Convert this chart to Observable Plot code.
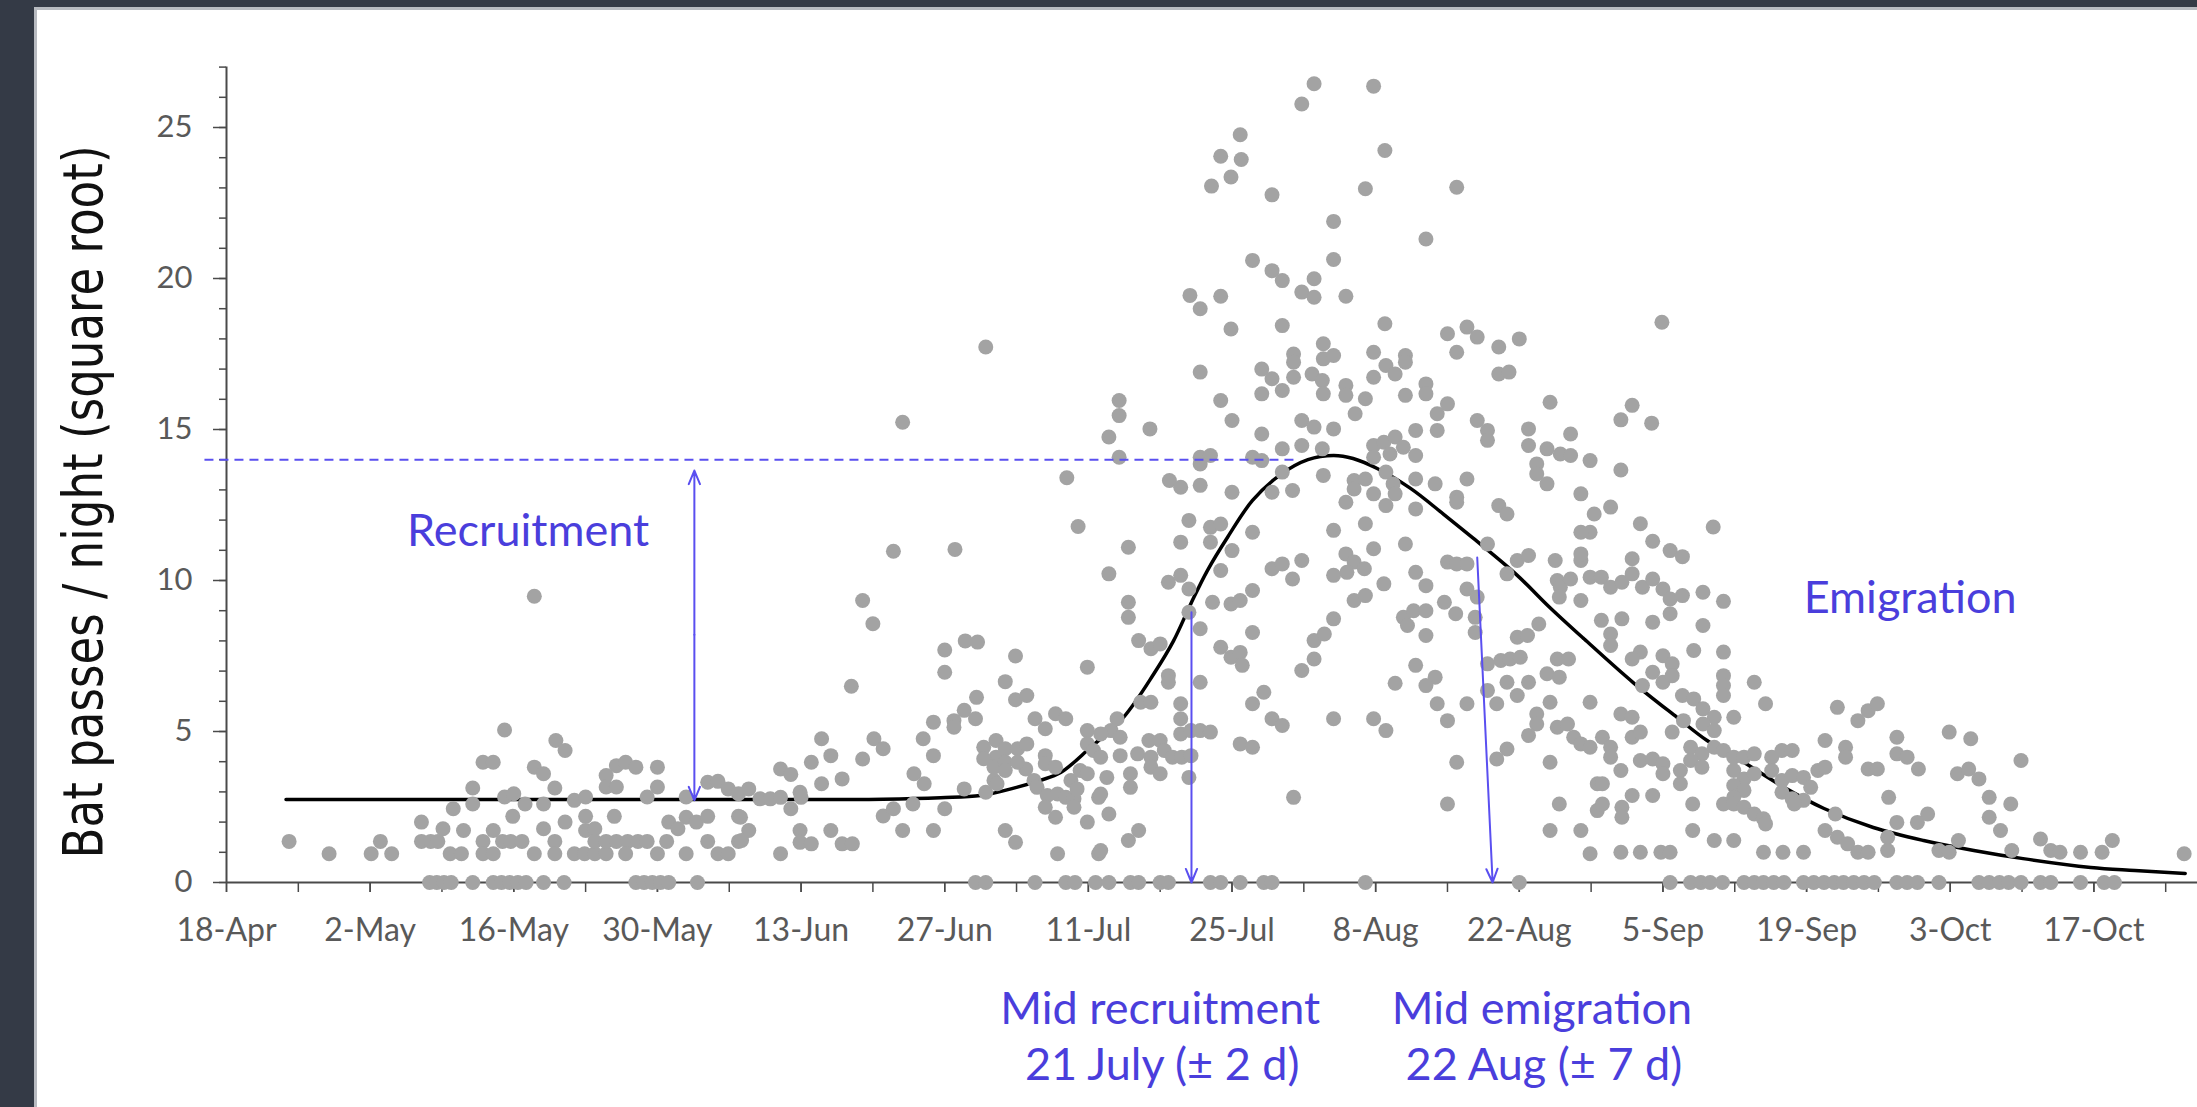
<!DOCTYPE html>
<html><head><meta charset="utf-8">
<script src="https://cdn.jsdelivr.net/npm/d3@7"></script>
<script src="https://cdn.jsdelivr.net/npm/@observablehq/plot@0.6"></script>
<style>
html,body{margin:0;padding:0;width:2197px;height:1107px;overflow:hidden;background:#343a46;}
#panel{position:absolute;left:34px;top:7px;width:2163px;height:1100px;background:#fff;border-left:3px solid #b8bbc1;border-top:3px solid #b8bbc1;overflow:hidden;}
#panel svg{position:absolute;left:0;top:0;}
</style></head><body><div id="panel"></div>
<script>
// x = nights since 18-Apr, y = sqrt(bat passes per night)
const xTickLabels = ["18-Apr","2-May","16-May","30-May","13-Jun","27-Jun","11-Jul","25-Jul","8-Aug","22-Aug","5-Sep","19-Sep","3-Oct","17-Oct"];
const yTickValues = [0,5,10,15,20,25];
const yTitle = "Bat passes / night (square root)";

const zeroNights = [19.8,20.5,21.2,21.9,24,26,26.8,27.6,28.4,29.2,30.9,32.9,39.9,40.7,41.5,42.3,43.1,45.9,
  73,74,78.8,81.8,82.7,84.7,86,88.1,88.9,91,91.8,95.9,96.9,98.8,101.1,101.9,111,126,
  140.7,142.7,143.7,144.6,145.8,147.9,148.9,149.8,150.8,151.8,153.7,154.7,155.7,156.7,157.6,158.6,159.6,160.6,
  162.8,163.8,164.8,166.9,170.8,171.8,172.8,173.7,174.9,176.8,177.8,180.7,183,184];

const earlyNights = [[6.1,1.36],[10.0,0.95],[14.1,0.95],[15.0,1.36],[16.1,0.95],
[19.0,2.0],[19.0,1.36],[19.9,1.36],[20.6,1.36],[21.1,1.78],
[21.8,0.95],[22.9,0.95],[22.1,2.44],[23.1,1.72],[24.0,3.13],[24.0,2.6],
[25.0,3.98],[26.0,3.98],[25.0,1.36],[25.0,0.95],[26.0,0.95],[26.0,1.72],
[27.1,5.05],[27.1,2.83],[28.0,2.94],[26.9,1.36],[27.7,1.36],[28.8,1.36],[27.9,2.19],[29.1,2.6],
[30.0,9.48],[30.0,3.82],[30.9,3.6],[30.0,0.95],[30.9,2.6],[30.9,1.78],
[32.1,4.7],[33.0,4.37],[32.0,3.13],[32.0,1.36],[32.0,0.95],[33.0,2.0],
[33.9,2.72],[35.0,2.83],[33.9,0.95],[34.9,0.95],[35.9,0.95],[37.0,0.95],[35.0,2.19],[35.0,1.72],[35.9,1.78],[35.9,1.36],[37.0,1.36],
[37.0,3.54],[38.0,3.87],[37.0,3.16],[38.0,3.16],[37.8,2.19],[38.9,3.98],[39.9,3.82],
[38.0,1.36],[39.1,1.36],[40.1,1.36],[41.0,1.36],[38.9,0.95],
[41.0,2.83],[42.0,3.82],[42.0,3.16],[42.0,0.95],[43.1,2.0],[42.9,1.36],
[44.0,1.78],[44.8,2.16],[44.8,2.83],[44.8,0.95],[45.8,2.0],
[46.9,3.32],[47.9,3.35],[48.9,3.1],[46.9,2.19],[46.9,1.36],[47.9,0.95],[48.9,0.95],
[49.9,2.94],[49.9,2.19],[49.9,1.36],
[65.9,15.24],[81.9,13.4],[83.0,11.79],[65.0,10.97],[71.0,11.03],[62.0,9.34],[63.0,8.57],[60.9,6.5],[70.0,7.7],[70.0,6.96],[72.0,8.0],[73.2,7.96],[76.9,7.5],[75.9,6.65],[83.9,7.13],[73.1,6.13],[76.9,6.05],[78.0,6.19],[70.9,5.36],[71.9,5.7],[73.0,5.42],[70.9,5.14],[68.9,5.31],[67.9,4.76],[68.9,4.2],[63.1,4.76],[64.0,4.43],[58.0,4.76],[58.9,4.2],[57.0,3.98],[62.0,4.09],[58.0,3.27],[60.0,3.43],[54.0,3.76],[55.0,3.58],[55.9,2.99],
[50.9,3.1],[52.0,2.77],[53.0,2.77],[54.0,2.82],[55.0,2.44],[56.0,2.82],[50.1,2.16],[50.9,1.72],[50.2,1.39],
[55.9,1.72],[55.9,1.33],[57.0,1.28],[54.0,0.95],[58.9,1.72],[60.0,1.28],[61.0,1.28],[64.0,2.2],[65.0,2.44],[67.0,3.6],[68.0,3.27],[66.9,2.6],[65.9,1.72],[68.9,1.72],[70.0,2.44],[71.9,3.1],[74.0,2.99],
[73.8,4.48],[75.0,4.7],[75.9,4.43],[75.0,4.15],[73.8,4.1],[74.8,3.82],[75.9,3.98],[77.1,4.43],[78.0,4.59],[77.9,3.76],[74.8,3.38],[75.9,3.71],[77.1,3.98],[75.1,3.27],
[78.7,3.38],[79.0,3.15],[78.8,5.42],[79.8,5.09],[80.8,5.59],[81.8,5.42],[79.8,4.2],[79.8,3.93],[80.8,3.82],[80.0,2.88],[81.0,2.93],[81.8,2.82],[82.6,2.77],[79.8,2.49],[80.8,2.16],[75.9,1.72],[76.9,1.33],[81.0,0.95],[82.3,3.38],[82.9,3.1],[83.2,3.71],[83.9,5.03],[83.9,4.59],[84.5,4.37],[83.9,2.0],[85.0,2.82],[85.0,0.95],[83.9,3.6],[82.6,2.49],
[74.0,17.73]];

const peakNights = [[106.0,26.45],[104.8,25.78],[111.8,26.37],[98.8,24.76],[96.9,24.05],[98.9,23.94],[97.9,23.36],[96.0,23.06],[101.9,22.77],[112.9,24.24],[111.0,22.97],[119.9,23.02],[107.9,21.89],[116.9,21.31],[100.0,20.6],[107.9,20.63],[101.9,20.26],[102.9,19.93],[106.0,19.99],[104.8,19.55],[106.0,19.38],[109.1,19.41],[93.9,19.44],[96.9,19.41],[94.9,19.0],[97.9,18.33],[102.9,18.44],[112.9,18.5],[94.9,16.9],[100.9,17.0],[101.9,16.68],[102.9,16.29],[100.9,16.18],[104.0,17.5],[104.0,17.23],[104.0,16.73],[106.9,17.84],[106.9,17.34],[107.9,17.45],[105.8,16.84],[106.8,16.62],[106.9,16.18],[109.1,16.46],[109.1,16.13],[110.0,15.52],[111.0,16.02],[111.8,17.56],[113.0,17.12],[113.9,16.84],[114.9,17.45],[114.9,17.23],[111.8,16.73],[114.9,16.13],[116.9,16.51],[116.9,16.18],[119.0,18.17],[119.9,17.56],[120.9,18.39],[121.9,18.06],[124.0,17.73],[124.0,16.84],[125.0,16.9],[126.0,18.0],[118.0,15.52],[119.0,15.85],[118.0,14.97],[115.9,14.97],[121.9,15.3],[122.9,14.97],[122.9,14.64],[126.9,15.02],[126.9,14.47],[129.0,15.9],[131.0,14.85],[128.7,14.36],[130.0,14.19],[131.0,14.14],[127.7,13.86],[127.7,13.53],[128.7,13.2],[132.9,13.97],[132.0,12.87],[87.0,15.96],[87.0,15.46],[86.0,14.75],[90.0,15.02],[87.0,14.08],[96.9,15.96],[98.0,15.3],[100.9,14.85],[102.9,14.36],[100.9,13.97],[100.0,14.08],[104.8,15.3],[106.0,15.08],[104.8,14.47],[107.9,15.02],[106.8,14.36],[111.8,14.47],[112.8,14.58],[113.9,14.75],[114.7,14.41],[115.9,14.14],[113.4,14.19],[111.8,14.08],[94.9,14.08],[95.9,14.14],[94.9,13.86],[91.9,13.31],[93.0,13.09],[94.9,13.15],[98.0,12.92],[101.9,12.92],[103.9,12.98],[102.9,13.59],[106.9,13.48],[109.9,13.31],[111.0,13.36],[109.9,13.03],[113.0,13.59],[113.7,13.2],[113.9,12.87],[115.9,13.36],[117.8,13.2],[119.9,12.76],[120.9,13.36],[111.8,12.87],
[109.1,12.59],[113.0,12.48],[115.9,12.37],[119.9,12.59],[124.0,12.48],[124.8,12.2],[133.3,12.2],
[93.8,11.99],[95.9,11.76],[96.9,11.87],[95.9,11.27],[100.0,11.6],[93.0,11.27],[87.9,11.1],[86.0,10.22],[98.0,10.99],[96.9,10.33],[91.8,9.94],[93.0,10.17],[93.8,9.72],[87.9,9.28],[87.9,8.78],[93.8,8.95],[96.1,9.28],[97.9,9.22],[98.8,9.34],[100.0,9.67],[94.9,8.4],[88.9,8.01],[90.1,7.74],[91.0,7.9],[96.9,7.79],[97.9,7.46],[98.8,7.62],[99.0,7.19],[100.0,8.28],[91.8,6.85],[91.8,6.63],[94.9,6.63],[101.1,6.3],[100.0,5.92],[89.1,5.97],[90.1,5.97],[93.0,5.92],[93.0,5.42],[93.0,4.92],[94.0,5.03],[94.9,5.03],[95.9,4.98],[86.8,5.42],[86.2,5.03],[87.1,4.81],[85.2,4.92],[101.9,5.42],[102.9,5.2],[98.8,4.59],[100.0,4.48],
[89.9,4.7],[91.0,4.7],[88.8,4.26],[90.1,4.15],[91.4,4.37],[92.2,4.15],[93.1,4.15],[94.0,4.2],[90.1,3.82],[91.0,3.6],[88.1,3.6],[88.1,3.15],[93.8,3.48],[87.1,4.2],[85.2,4.15],[85.8,3.48],[85.2,2.93],
[104.0,2.82],[107.9,5.42],[111.8,5.42],[113.0,5.03],[104.8,7.02],[106.0,7.4],[106.0,8.01],[107.0,8.23],[107.9,8.73],[101.9,10.39],[102.9,10.55],[104.8,10.66],[103.9,10.05],[107.9,11.66],[111.0,11.88],[111.8,11.05],[109.1,10.88],[109.9,10.61],[110.9,10.39],[107.9,10.17],[109.2,10.27],[109.9,9.34],[111.0,9.5],[112.8,9.89],[114.9,11.21],[115.9,10.27],[116.9,9.83],[119.0,10.61],[119.9,10.55],[120.9,10.55],[122.9,11.21],[120.9,9.72],[121.9,9.45],[118.7,9.28],[119.8,8.9],[114.7,8.78],[115.7,9.0],[116.9,9.0],[115.1,8.51],[116.9,8.18],[121.7,8.78],[121.7,8.28],[115.9,7.19],[117.8,6.8],[116.9,6.52],[113.9,6.6],[118.0,5.92],[119.0,5.36],[120.9,5.92],[119.9,3.98],[119.0,2.6],[122.9,7.24],[124.2,7.35],[125.1,7.4],[126.1,7.46],[124.8,6.63],[125.8,6.19],[126.9,6.63],[122.9,6.36],[123.8,5.92],[125.8,10.66],[126.9,10.83],[124.8,10.22],[125.8,8.12],[126.8,8.18],[127.9,8.56],[124.8,4.42],[123.8,4.09],[127.7,5.58],[127.7,5.25],[126.9,4.87],[128.7,6.91],[129.9,6.8],[129.0,5.97],
[129.5,10.66],[129.7,10.0],[130.0,9.78],[131.0,10.05],[132.0,10.66],[132.0,10.88],[132.9,11.6],[132.0,11.6],[132.0,9.34],[132.9,10.11],[129.9,9.45],
[129.7,7.4],[130.8,7.4],[129.7,5.14],[130.7,5.25],[131.3,4.81],[132.0,4.59],[132.9,4.48],[132.9,5.97],[129.0,3.98],[129.9,2.6],[129.0,1.72],[132.0,1.72],[132.9,0.95],[133.6,3.27],[133.6,2.38],[85.2,1.06],[87.9,1.39],[88.9,1.72],[86.0,2.27]];

const lateNights = [[139.9,18.55],[137.0,15.8],[135.9,15.32],[138.9,15.21],
[135.9,13.66],[134.9,12.43],[137.8,11.88],[144.9,11.77],[139.0,11.3],[140.7,10.99],[141.9,10.79],[137.0,10.72],
[134.0,10.11],[134.9,9.78],[136.0,9.94],[137.0,10.22],[138.0,9.78],[139.0,10.05],[140.0,9.72],[140.7,9.39],[141.9,9.5],[143.9,9.61],[145.9,9.31],
[140.7,8.9],[139.0,8.62],[136.0,8.73],[134.0,8.68],[134.9,8.23],[143.9,8.51],
[134.9,7.85],[143.0,7.68],[145.9,7.63],[137.8,7.63],[137.0,7.4],[140.0,7.51],[140.9,7.24],[139.0,6.96],[140.0,6.63],[140.9,6.85],
[145.9,6.85],[145.9,6.52],[145.9,6.19],[148.9,6.63],[138.0,6.52],[150.0,5.92],
[141.9,6.19],[143.0,6.08],[143.9,5.75],[145.0,5.47],[143.9,5.25],[145.0,5.03],
[135.9,5.58],[137.0,5.47],[142.0,5.36],[140.9,4.98],[137.0,4.81],[137.8,4.98],[146.9,5.47],
[134.1,4.81],[134.9,4.48],[134.9,4.15],[135.9,3.71],
[142.7,4.48],[143.8,4.26],[142.7,4.04],[143.8,3.82],
[145.0,4.48],[145.9,4.37],[146.9,4.15],[147.9,4.15],[148.9,4.26],
[137.8,4.04],[139.0,4.09],[140.0,3.93],[140.0,3.6],
[146.9,3.71],[147.9,3.43],[146.9,3.21],[147.9,3.05],[146.9,2.82],[148.9,3.6],
[150.6,4.15],[151.6,4.37],[152.6,4.37],[150.6,3.71],[151.6,3.38],[152.6,3.54],[153.7,3.48],[155.1,3.71],[155.8,3.82],[154.4,3.15],[151.6,2.99],[152.6,2.77],[153.7,2.72],[152.8,2.6],
[141.7,3.71],[141.7,3.27],[139.0,2.88],[137.0,2.88],[136.0,2.49],[136.0,2.16],[134.1,2.6],[134.1,3.27],
[142.9,2.6],[145.9,2.6],[146.9,2.6],[147.9,2.49],[148.9,2.27],[149.8,2.11],[150.0,1.94],
[142.9,1.72],[145.0,1.39],[146.9,1.39],
[155.8,4.7],[157.8,4.48],[157.8,4.15],
[157.0,5.8],[159.0,5.36],[160.0,5.69],[160.9,5.92],
[160.0,3.76],[160.9,3.76],
[162.8,4.81],[162.8,4.26],[163.8,4.15],[164.9,3.76],
[167.9,4.98],[170.0,4.76],[174.9,4.04],
[168.7,3.6],[169.8,3.76],[170.8,3.43],
[162.0,2.82],[165.8,2.27],[164.8,1.99],[162.8,1.99],
[171.8,2.82],[173.9,2.6],[171.8,2.16],[172.9,1.72],
[155.8,1.72],[156.8,2.27],[157.0,1.5],[158.0,1.28],[159.0,1.0],[160.0,1.0],
[161.9,1.5],[161.9,1.06],
[166.9,1.06],[167.9,1.0],[168.8,1.39],
[174.0,1.06],[176.8,1.44],[177.8,1.06],[178.7,1.0],[180.7,1.0],
[135.9,1.0],[137.8,1.0],[139.8,1.0],[140.7,1.0],
[149.8,1.0],[151.7,1.0],[153.7,1.0],
[183.8,1.39],[182.8,1.0],[190.8,0.95]];

// fitted curve
const fitDay = [5.8,20,40,60,64,69.6,73.5,77,79.3,81.3,84.2,87.4,90.4,92.3,94,95.6,97.6,100,102.7,105.4,107.9,109.8,112.2,115.4,118.6,121.5,125.8,129,132.3,137.1,141.4,144.3,147.6,151.8,155.7,160.5,165.4,170.3,175.1,181.7,186,190.9];
const fitValue = [2.75,2.75,2.75,2.75,2.76,2.81,2.88,3.15,3.38,3.64,4.47,5.46,6.92,8.0,9.24,10.33,11.45,12.65,13.5,14.0,14.14,14.04,13.7,13.05,12.2,11.4,10.17,9.1,8.07,6.62,5.46,4.7,4.04,3.15,2.45,1.82,1.39,1.06,0.79,0.5,0.4,0.3];

const BLUE_TEXT = "#4a3edc";
const BLUE_LINE = "#5a4ff0";
const AXIS = "#4a4a4a";
const DOT = "#a3a3a3";

const fit = fitDay.map((d, i) => ({day: d, value: fitValue[i]}));
const arrows = [
  {x1: 45.6, y1: 8.2, x2: 45.6, y2: 13.64},
  {x1: 45.6, y1: 8.2, x2: 45.6, y2: 2.72},
  {x1: 94.05, y1: 8.95, x2: 94.05, y2: 0},
  {x1: 121.9, y1: 10.76, x2: 123.4, y2: 0}
];
const labels = [
  {x: 29.4, y: 11.63, t: "Recruitment"},
  {x: 164.1, y: 9.4, t: "Emigration"},
  {x: 91.0, y: -4.2, t: "Mid recruitment"},
  {x: 91.2, y: -6.05, t: "21 July (± 2 d)"},
  {x: 128.2, y: -4.2, t: "Mid emigration"},
  {x: 128.4, y: -6.05, t: "22 Aug (± 7 d)"}
];

const chart = Plot.plot({
  width: 2160, height: 1097,
  marginLeft: 189, marginRight: 0, marginTop: 56.6, marginBottom: 225,
  x: {domain: [0, 192.1]},
  y: {domain: [0, 27]},
  style: {fontFamily: "Lato, 'Open Sans', sans-serif", background: "transparent", overflow: "visible"},
  marks: [
    Plot.axisY({ticks: d3.range(0, 28, 1), tickSize: 7, tickFormat: () => "", stroke: AXIS, strokeWidth: 1.5, label: null}),
    Plot.axisY({ticks: yTickValues, tickSize: 13, tickPadding: 21, fontSize: 31, fill: "#595959", stroke: AXIS, strokeWidth: 1.5, label: null}),
    Plot.axisX({ticks: d3.range(0, 192, 7), tickSize: 10, tickFormat: () => "", stroke: AXIS, strokeWidth: 1.5, label: null}),
    Plot.axisX({ticks: xTickLabels.map((_, i) => i * 14), tickSize: 10, tickPadding: 26, tickFormat: d => xTickLabels[Math.round(d / 14)], fontSize: 32, fill: "#595959", stroke: AXIS, strokeWidth: 1.5, label: null}),
    Plot.ruleX([0], {y1: 0, y2: 27, stroke: AXIS, strokeWidth: 2}),
    Plot.ruleY([0], {stroke: AXIS, strokeWidth: 2}),
    Plot.line(fit, {x: "day", y: "value", stroke: "#000", strokeWidth: 3.5, curve: "catmull-rom"}),
    Plot.dot(zeroNights, {x: d => d, y: () => 0, r: 7.5, fill: DOT}),
    Plot.dot(earlyNights, {x: d => d[0], y: d => d[1], r: 7.5, fill: DOT}),
    Plot.dot(peakNights, {x: d => d[0], y: d => d[1], r: 7.5, fill: DOT}),
    Plot.dot(lateNights, {x: d => d[0], y: d => d[1], r: 7.5, fill: DOT}),
    Plot.ruleY([14], {x1: -2.1, x2: 104.4, stroke: BLUE_LINE, strokeWidth: 2, strokeDasharray: "9,6"}),
    Plot.arrow(arrows, {x1: "x1", y1: "y1", x2: "x2", y2: "y2", stroke: BLUE_LINE, strokeWidth: 2, headLength: 11, headAngle: 45}),
    Plot.text(labels, {x: "x", y: "y", text: "t", fontSize: 45, fill: BLUE_TEXT}),
    Plot.text([yTitle], {x: -13.84, y: 12.6, text: d => d, rotate: -90, fontSize: 56, fontFamily: "'Liberation Sans Narrow', 'DejaVu Sans Condensed', sans-serif", fill: "#111"})
  ]
});

chart.querySelectorAll("text").forEach(t => {
  if (t.textContent === yTitle) {
    t.setAttribute("textLength", "713");
    t.setAttribute("lengthAdjust", "spacingAndGlyphs");
  }
});
document.getElementById("panel").appendChild(chart);
</script></body></html>
